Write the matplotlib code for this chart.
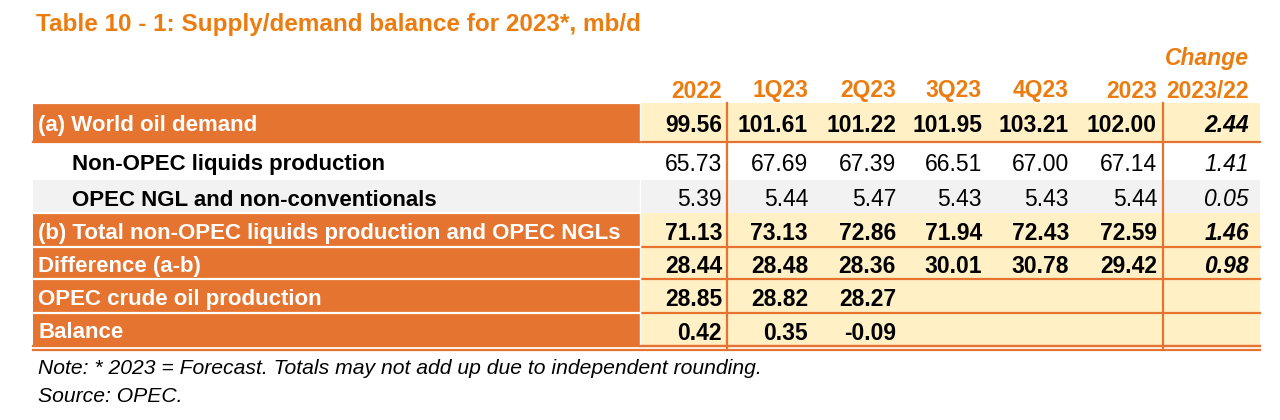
import matplotlib.pyplot as plt
from matplotlib.patches import Rectangle

TITLE = "Table 10 - 1: Supply/demand balance for 2023*, mb/d"
NOTE = "Note: * 2023 = Forecast. Totals may not add up due to independent rounding."
SOURCE = "Source: OPEC."

COLUMNS = ["2022", "1Q23", "2Q23", "3Q23", "4Q23", "2023"]
CHANGE_HEADER = ["Change", "2023/22"]

ROW_LABELS = [
    "(a) World oil demand",
    "Non-OPEC liquids production",
    "OPEC NGL and non-conventionals",
    "(b) Total non-OPEC liquids production and OPEC NGLs",
    "Difference (a-b)",
    "OPEC crude oil production",
    "Balance",
]
# orange (summary) rows vs plain sub rows
ROW_KIND = ["main", "sub", "sub_grey", "main", "main", "main", "main"]

WORLD_DEMAND = [99.56, 101.61, 101.22, 101.95, 103.21, 102.00]
NON_OPEC = [65.73, 67.69, 67.39, 66.51, 67.00, 67.14]
OPEC_NGL = [5.39, 5.44, 5.47, 5.43, 5.43, 5.44]
TOTAL_B = [71.13, 73.13, 72.86, 71.94, 72.43, 72.59]
DIFFERENCE = [28.44, 28.48, 28.36, 30.01, 30.78, 29.42]
OPEC_CRUDE = [28.85, 28.82, 28.27, None, None, None]
BALANCE = [0.42, 0.35, -0.09, None, None, None]
CHANGE = [2.44, 1.41, 0.05, 1.46, 0.98, None, None]

VALUES = [WORLD_DEMAND, NON_OPEC, OPEC_NGL, TOTAL_B, DIFFERENCE, OPEC_CRUDE, BALANCE]

ORANGE = "#E57431"
TITLE_ORANGE = "#EB7D10"
CREAM = "#FFF0C6"
GREY = "#F2F2F2"

FONT = ["Liberation Sans", "DejaVu Sans"]

# layout in pixels
ROW_EDGES = [103, 142, 180, 213, 247, 279, 313, 346]
TABLE_LEFT, LABEL_RIGHT, TABLE_RIGHT = 33, 640, 1260
COL_RIGHT = [722, 808, 896, 982, 1069, 1157]
CHANGE_RIGHT = 1249
VLINES = [727, 1163]


def main():
    fig = plt.figure(figsize=(12.8, 4.2), dpi=100)
    ax = fig.add_axes([0, 0, 1, 1])
    ax.set_xlim(0, 1280)
    ax.set_ylim(420, 0)
    ax.axis("off")

    ax.text(36, 24, TITLE, color=TITLE_ORANGE, fontsize=17.5, fontweight="bold",
            family=FONT, ha="left", va="center")

    # headers
    ax.text(CHANGE_RIGHT, 59, CHANGE_HEADER[0], color=TITLE_ORANGE, fontsize=16.5,
            fontweight="bold", style="italic", family=FONT, ha="right", va="center")
    for x, name in zip(COL_RIGHT, COLUMNS):
        ax.text(x, 91, name, color=TITLE_ORANGE, fontsize=16.5, fontweight="bold",
                family=FONT, ha="right", va="center")
    ax.text(CHANGE_RIGHT, 91, CHANGE_HEADER[1], color=TITLE_ORANGE, fontsize=16.5,
            fontweight="bold", family=FONT, ha="right", va="center")

    for i, label in enumerate(ROW_LABELS):
        top, bottom = ROW_EDGES[i], ROW_EDGES[i + 1]
        yc = (top + bottom) / 2 + 3.5
        kind = ROW_KIND[i]
        if kind == "main":
            ax.add_patch(Rectangle((TABLE_LEFT, top), LABEL_RIGHT - TABLE_LEFT, bottom - top,
                                   facecolor=ORANGE, edgecolor="none"))
            ax.add_patch(Rectangle((LABEL_RIGHT, top), TABLE_RIGHT - LABEL_RIGHT, bottom - top,
                                   facecolor=CREAM, edgecolor="none"))
            ax.plot([LABEL_RIGHT, TABLE_RIGHT], [bottom, bottom], color=ORANGE, lw=1.6)
            ax.plot([TABLE_LEFT, LABEL_RIGHT], [top, top], color="white", lw=1.6)
            ax.text(38, yc, label, color="white", fontsize=16, fontweight="bold",
                    family=FONT, ha="left", va="center")
        else:
            if kind == "sub_grey":
                ax.add_patch(Rectangle((TABLE_LEFT, top), TABLE_RIGHT - TABLE_LEFT, bottom - top,
                                       facecolor=GREY, edgecolor="none"))
            ax.text(72, yc, label, color="black", fontsize=16, fontweight="bold",
                    family=FONT, ha="left", va="center")

        weight = "bold" if kind == "main" else "normal"
        for x, v in zip(COL_RIGHT, VALUES[i]):
            if v is None:
                continue
            ax.text(x, yc, f"{v:.2f}", color="black", fontsize=16.5, fontweight=weight,
                    family=FONT, ha="right", va="center")
        if CHANGE[i] is not None:
            ax.text(CHANGE_RIGHT, yc, f"{CHANGE[i]:.2f}", color="black", fontsize=16.5,
                    fontweight=weight, style="italic", family=FONT, ha="right", va="center")

    # white gap between label column and values
    ax.plot([LABEL_RIGHT, LABEL_RIGHT], [ROW_EDGES[0], ROW_EDGES[-1]], color="white", lw=1.0)
    ax.plot([TABLE_LEFT, LABEL_RIGHT], [ROW_EDGES[1], ROW_EDGES[1]], color=ORANGE, lw=1.6)
    for x in VLINES:
        ax.plot([x, x], [ROW_EDGES[0], ROW_EDGES[-1] + 3], color=ORANGE, lw=1.6)
    # double bottom rule
    ax.plot([TABLE_LEFT, TABLE_RIGHT], [ROW_EDGES[-1], ROW_EDGES[-1]], color=ORANGE, lw=1.6)
    ax.plot([TABLE_LEFT, TABLE_RIGHT], [ROW_EDGES[-1] + 3.5, ROW_EDGES[-1] + 3.5], color=ORANGE, lw=1.6)

    ax.text(38, 368, NOTE, color="black", fontsize=15.2, style="italic", family=FONT,
            ha="left", va="center")
    ax.text(38, 396, SOURCE, color="black", fontsize=15.2, style="italic", family=FONT,
            ha="left", va="center")

    fig.savefig("out.png", dpi=100)
    plt.close(fig)


if __name__ == "__main__":
    main()
